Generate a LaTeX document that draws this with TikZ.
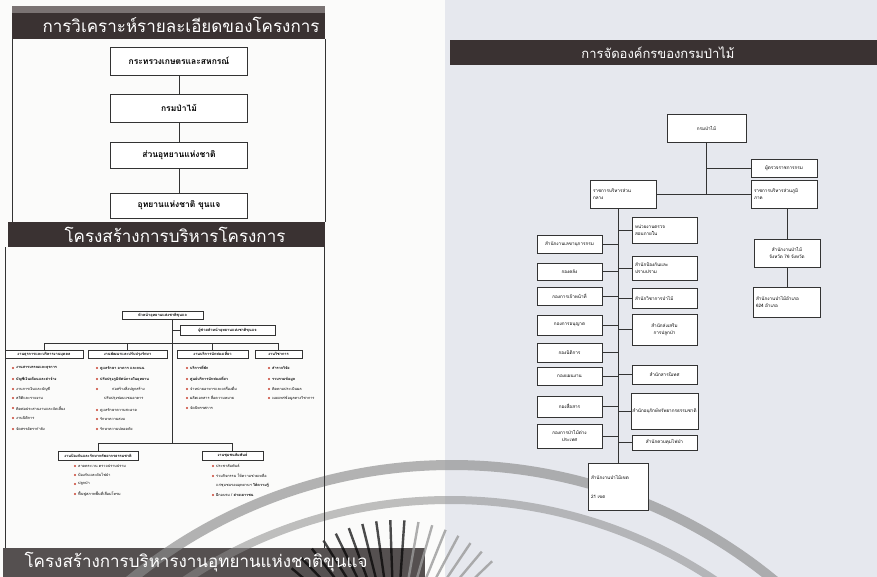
\documentclass[tikz,border=0pt]{standalone}
\usepackage{fontspec}
\newfontfamily\thai[Script=Thai]{Loma}
\usetikzlibrary{calc}
\definecolor{paper}{HTML}{FBFBFA}
\definecolor{panel}{HTML}{E6E8EE}
\definecolor{bardark}{HTML}{3A3232}
\definecolor{barmid}{HTML}{7A7373}
\definecolor{barlow}{HTML}{555050}
\definecolor{bred}{HTML}{C8402F}
\definecolor{arcgray}{HTML}{8C8C8C}
\definecolor{raygray}{HTML}{9A9A9A}
\definecolor{linec}{HTML}{333333}
\tikzset{
  ttl/.style={text=white, inner sep=0, font=\thai\fontsize{17}{18}\selectfont},
  topbox/.style={draw=linec, line width=0.7, fill=white, inner sep=1, font=\thai\fontsize{8.5}{10}\selectfont\bfseries},
  conn/.style={draw=linec, line width=0.6},
  thinc/.style={draw=linec, line width=0.45},
  hbox/.style={draw=linec, line width=0.55, fill=white, inner sep=0.5, font=\thai\fontsize{3.9}{5}\selectfont\bfseries},
  itm/.style={inner sep=0, anchor=west, font=\thai\fontsize{3.8}{5}\selectfont},
  rbox/.style={draw=linec, line width=0.6, fill=white, inner sep=1.5, font=\thai\fontsize{4.6}{7}\selectfont},
}
\newcommand{\bitem}[4]{\fill[bred] (#2,#3) circle (1.2); \node[itm] (#1) at (#2+3,#3) {#4};}
\begin{document}
\begin{tikzpicture}[x=1pt,y=-1pt]
\useasboundingbox (0,0) rectangle (877,577);
% backgrounds
\fill[paper] (0,0) rectangle (877,577);
\fill[panel] (445,0) rectangle (877,577);
% title bars
\fill[barmid] (12,6) rectangle (325,13);
\fill[bardark] (12,13) rectangle (325,39);
\fill[bardark] (8,222) rectangle (325,247);
\fill[bardark] (450,40) rectangle (877,65);
\fill[barlow] (3,548) rectangle (425,577);
% arcs and rays
\begin{scope}
\clip (0,0) rectangle (877,577);
\draw[arcgray, line width=10, opacity=0.65] (452,972.4) circle (507.4);
\draw[arcgray, line width=8, opacity=0.55] (450,977.5) circle (477.5);
\foreach \a in {-140,-134,...,-86} {
  \draw[black, line width=2.4, opacity=0.7] ($(395,655)+(\a:75)$) -- ($(395,655)+(\a:135)$);
}
\foreach \a in {-80,-74,...,-40} {
  \draw[raygray, line width=2.4, opacity=0.8] ($(395,655)+(\a:75)$) -- ($(395,655)+(\a:135)$);
}
\end{scope}
% frames
\draw[thinc] (12,39) -- (12,222);
\draw[thinc] (325,39) -- (325,222);
\draw[thinc] (5,247) -- (5,548);
\draw[thinc] (324,247) -- (324,548);
% titles
\node[ttl] (t1) at (181,25) {การวิเคราะห์รายละเอียดของโครงการ};
\node[ttl] (t2) at (175,235) {โครงสร้างการบริหารโครงการ};
\node[ttl, font=\thai\fontsize{13}{14}\selectfont] (t3) at (658,53) {การจัดองค์กรของกรมป่าไม้};
\node[ttl] (t4) at (196,562) {โครงสร้างการบริหารงานอุทยานแห่งชาติขุนแจ};
% top-left chain
\node[topbox, minimum width=137, minimum height=28] (b1) at (179,61) {กระทรวงเกษตรและสหกรณ์};
\node[topbox, minimum width=137, minimum height=28] (b2) at (179,108) {กรมป่าไม้};
\node[topbox, minimum width=137, minimum height=26] (b3) at (179,155) {ส่วนอุทยานแห่งชาติ};
\node[topbox, minimum width=137, minimum height=25] (b4) at (179,205.5) {อุทยานแห่งชาติ ขุนแจ};
\draw[conn] (b1) -- (b2);
\draw[conn] (b2) -- (b3);
\draw[conn] (b3) -- (b4);
% left org chart
\node[hbox, minimum width=81, minimum height=8] (lT) at (162.5,315) {หัวหน้าอุทยานแห่งชาติขุนแจ};
\node[hbox, minimum width=95, minimum height=10] (lA) at (227.5,330) {ผู้ช่วยหัวหน้าอุทยานแห่งชาติขุนแจ};
\node[hbox, minimum width=78, minimum height=8] (G1) at (44,354) {งานธุรการและบริหารงานบุคคล};
\node[hbox, minimum width=79, minimum height=8] (G2) at (127.5,354) {งานพัฒนาและปรับปรุงรักษา};
\node[hbox, minimum width=71, minimum height=8] (G3) at (212.5,354) {งานบริการนักท่องเที่ยว};
\node[hbox, minimum width=47, minimum height=8] (G4) at (278.5,354) {งานวิชาการ};
\node[hbox, minimum width=80, minimum height=9] (B1) at (98,455.5) {งานป้องกันและรักษาทรัพยากรธรรมชาติ};
\node[hbox, minimum width=61, minimum height=9] (B2) at (232.5,455.5) {งานชุมชนสัมพันธ์};
\coordinate (sp1) at ($(lT.south west)!0.617!(lT.south east)$);
\coordinate (lbus) at ($(sp1 |- B1.north)+(0,-8)$);
\draw[thinc] (sp1) -- (lbus);
\draw[thinc] (sp1 |- lA.west) -- (lA.west);
\draw[thinc] (G1.north) -- ++(0,-7) -| (G4.north);
\draw[thinc] (G2.north) -- ++(0,-7);
\draw[thinc] (G3.north) -- ++(0,-7);
\draw[thinc] (B1.north) -- ++(0,-8) -| (B2.north);
% items
\bitem{g1a}{13}{368}{\bfseries งานสารบรรณและธุรการ}
\bitem{g1b}{13}{379}{\bfseries บัญชีเงินเดือนและค่าจ้าง}
\bitem{g1c}{13}{389}{งานการเงินและบัญชี}
\bitem{g1d}{13}{398}{สถิติและรายงาน}
\bitem{g1e}{13}{408}{ติดต่อประสานงานและจัดเลี้ยง}
\bitem{g1f}{13}{418}{งานนิติการ}
\bitem{g1g}{13}{429}{จัดสรรอัตรากำลัง}
\bitem{g2a}{97}{368}{\bfseries ดูแลรักษา อาคาร และถนน}
\bitem{g2b}{97}{379}{\bfseries ปรับปรุงภูมิทัศน์ภายในอุทยาน}
\fill[bred] (97,389) circle (1.2);
\node[itm] (g2c) at (112,389) {ก่อสร้างสิ่งปลูกสร้าง};
\node[itm] (g2d) at (104,398) {ปรับปรุงซ่อมแซมอาคาร};
\bitem{g2e}{97}{410}{ดูแลรักษาความสะอาด}
\bitem{g2f}{97}{419}{รักษาความสงบ}
\bitem{g2g}{97}{429}{รักษาความปลอดภัย}
\bitem{g3a}{187}{368}{\bfseries บริการที่พัก}
\bitem{g3b}{187}{379}{\bfseries ศูนย์บริการนักท่องเที่ยว}
\bitem{g3c}{187}{389}{จำหน่ายอาหารและเครื่องดื่ม}
\bitem{g3d}{187}{398}{ผลิตเอกสาร สื่อความหมาย}
\bitem{g3e}{187}{408}{จัดนิทรรศการ}
\bitem{g4a}{269}{368}{\bfseries สำรวจวิจัย}
\bitem{g4b}{269}{379}{\bfseries รวบรวมข้อมูล}
\bitem{g4c}{269}{389}{ติดตามประเมินผล}
\bitem{g4d}{269}{398}{เผยแพร่ข้อมูลทางวิชาการ}
\bitem{b1a}{75}{466}{ลาดตระเวน ตรวจปราบปราม}
\bitem{b1b}{75}{475}{ป้องกันและดับไฟป่า}
\bitem{b1c}{75}{484}{ปลูกป่า}
\bitem{b1d}{75}{494}{ฟื้นฟูสภาพพื้นที่เสื่อมโทรม}
\bitem{b2a}{213}{466}{ประชาสัมพันธ์}
\bitem{b2b}{213}{476}{ร่วมกิจกรรม ให้ความช่วยเหลือ}
\node[itm] (b2c) at (216,485) {แก่ชุมชนรอบอุทยานฯ \bfseries ให้ความรู้};
\bitem{b2d}{213}{495}{ฝึกอบรม / \bfseries ค่ายเยาวชน}
% right org chart
\node[rbox, minimum width=79, minimum height=28] (rA) at (706.5,128) {กรมป่าไม้};
\node[rbox, minimum width=66, minimum height=18] (rI) at (784,168) {ผู้ตรวจราชการกรม};
\node[rbox, minimum width=66, minimum height=28, text width=60, align=left] (rC) at (623,194) {ราชการบริหารส่วน\\กลาง};
\node[rbox, minimum width=66, minimum height=28, text width=60, align=left] (rR) at (784,194) {ราชการบริหารส่วนภูมิ\\ภาค};
\node[rbox, minimum width=60, minimum height=47, text width=54, align=left] (rB) at (618,486.5) {สำนักงานป่าไม้เขต\\[12pt]21 เขต};
\node[rbox, minimum width=66, minimum height=28, text width=60, align=center] (rP) at (787,253) {สำนักงานป่าไม้\\จังหวัด 76 จังหวัด};
\node[rbox, minimum width=67, minimum height=30, text width=61, align=left] (rD) at (786.5,302) {สำนักงานป่าไม้อำเภอ\\624 อำเภอ};
\node[rbox, minimum width=65, minimum height=18] (l1) at (569.5,244) {สำนักงานเลขานุการกรม};
\node[rbox, minimum width=65, minimum height=17] (l2) at (569.5,271.5) {กองคลัง};
\node[rbox, minimum width=65, minimum height=18] (l3) at (569.5,296) {กองการเจ้าหน้าที่};
\node[rbox, minimum width=65, minimum height=20] (l4) at (569.5,325) {กองการอนุญาต};
\node[rbox, minimum width=65, minimum height=19] (l5) at (569.5,352.5) {กองนิติการ};
\node[rbox, minimum width=65, minimum height=18] (l6) at (569.5,376) {กองแผนงาน};
\node[rbox, minimum width=65, minimum height=21] (l7) at (569.5,406.5) {กองสื่อสาร};
\node[rbox, minimum width=65, minimum height=24, text width=59, align=center] (l8) at (569.5,436) {กองการป่าไม้ต่าง\\ประเทศ};
\node[rbox, minimum width=65, minimum height=26, text width=59, align=left] (r1) at (664.5,230) {หน่วยงานตรวจ\\สอบภายใน};
\node[rbox, minimum width=65, minimum height=24, text width=59, align=left] (r2) at (664.5,268) {สำนักป้องกันและ\\ปราบปราม};
\node[rbox, minimum width=65, minimum height=20, text width=59, align=left] (r3) at (664.5,298) {สำนักวิชาการป่าไม้};
\node[rbox, minimum width=65, minimum height=31, text width=59, align=center] (r4) at (664.5,329.5) {สำนักส่งเสริม\\การปลูกป่า};
\node[rbox, minimum width=65, minimum height=19] (r5) at (664.5,374.5) {สำนักสารนิเทศ};
\node[rbox, minimum width=65, minimum height=36] (r6) at (664.5,411) {สำนักอนุรักษ์ทรัพยากรธรรมชาติ};
\node[rbox, minimum width=65, minimum height=15] (r7) at (664.5,442.5) {สำนักควบคุมไฟป่า};
\draw[conn] (rA.south) -- (rA.south |- rC.east);
\draw[conn] (rC.east) -- (rR.west);
\draw[conn] (rA.south |- rI.west) -- (rI.west);
\draw[conn] (rC.south -| rB.north) -- (rB.north);
\foreach \n in {l1,l2,l3,l4,l5,l6,l7,l8} {\draw[conn] (\n.east) -- (\n.east -| rB.north);}
\foreach \n in {r1,r2,r3,r4,r5,r6,r7} {\draw[conn] (\n.west) -- (\n.west -| rB.north);}
\draw[conn] (rR.south -| rP.north) -- (rP.north);
\draw[conn] (rP.south) -- (rP.south |- rD.north);
\end{tikzpicture}
\end{document}
